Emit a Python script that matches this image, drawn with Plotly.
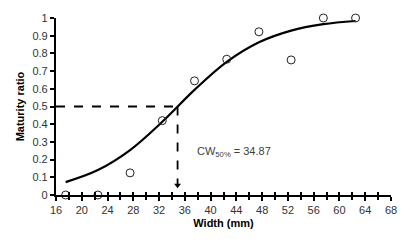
import plotly.graph_objects as go

width_mm = [17.5, 22.5, 27.5, 32.5, 37.5, 42.5, 47.5, 52.5, 57.5, 62.5]
observed = [0.0, 0.0, 0.125, 0.42, 0.645, 0.767, 0.922, 0.763, 1.0, 1.0]
fitted = [0.073, 0.141, 0.254, 0.414, 0.594, 0.752, 0.863, 0.929, 0.965, 0.983]
cw50 = 34.87
arrow_tip = 0.055
x_ticks = [16, 20, 24, 28, 32, 36, 40, 44, 48, 52, 56, 60, 64, 68]
y_ticks = [0, 0.1, 0.2, 0.3, 0.4, 0.5, 0.6, 0.7, 0.8, 0.9, 1]

fig = go.Figure()
fig.add_trace(go.Scatter(x=width_mm, y=fitted, mode="lines", line=dict(color="black", width=2.2, shape="spline", smoothing=1.0), showlegend=False))
fig.add_trace(go.Scatter(x=[x_ticks[0], cw50], y=[0.5, 0.5], mode="lines", line=dict(color="black", width=1.8, dash="dash"), showlegend=False))
fig.add_trace(go.Scatter(x=[cw50, cw50], y=[0.5, arrow_tip], mode="lines", line=dict(color="black", width=1.8, dash="dash"), showlegend=False))
fig.add_trace(go.Scatter(x=[cw50], y=[arrow_tip], mode="markers", cliponaxis=False,
                         marker=dict(symbol="triangle-down", size=6, color="black"), showlegend=False))
fig.add_trace(go.Scatter(x=width_mm, y=observed, mode="markers", cliponaxis=False,
                         marker=dict(symbol="circle-open", size=8, color="#222", line=dict(width=1)), showlegend=False))
fig.add_annotation(x=37.6, y=0.245, xref="x", yref="y", xanchor="left", yanchor="middle", showarrow=False,
                   text="CW<sub>50%</sub> = " + f"{cw50:.2f}", font=dict(family="Liberation Sans", size=11, color="#404040"))

fig.update_layout(
    width=410, height=245, margin=dict(l=55.5, r=19, t=11.7, b=50),
    plot_bgcolor="white", paper_bgcolor="white",
    font=dict(family="Liberation Sans, Arial", size=11, color="#333"),
    xaxis=dict(range=[16, 68], tickvals=x_ticks, ticks="outside", ticklen=4, tickwidth=1.5, tickcolor="black",
               showline=True, linecolor="black", linewidth=2.2, showgrid=False, zeroline=False,
               minor=dict(dtick=2, tick0=16, ticks="outside", ticklen=3, tickwidth=1.5, tickcolor="black"),
               title=dict(text="<b>Width (mm)</b>", font=dict(size=11, color="black"), standoff=4)),
    xaxis2=dict(range=[16, 68], overlaying="x", anchor="y", side="bottom", tickvals=x_ticks, ticks="inside", ticklen=3,
                tickwidth=1.5, tickcolor="black", showticklabels=False, showgrid=False, zeroline=False,
                minor=dict(dtick=2, tick0=16, ticks="inside", ticklen=3, tickwidth=1.5, tickcolor="black")),
    yaxis=dict(range=[0, 1], tickvals=y_ticks, ticktext=[f"{v:g}" for v in y_ticks], ticks="outside", ticklen=4, tickwidth=1.5,
               tickcolor="black", showline=True, linecolor="black", linewidth=2.2, showgrid=False, zeroline=False,
               title=dict(text="<b>Maturity ratio</b>", font=dict(size=11, color="black"), standoff=6)),
)
fig.add_trace(go.Scatter(x=[16], y=[0], xaxis="x2", mode="markers", marker=dict(opacity=0), showlegend=False, hoverinfo="skip"))
fig.write_html("out.html", config={"displayModeBar": False},
               post_script="document.body.style.margin='0';document.body.style.overflow='hidden';")
